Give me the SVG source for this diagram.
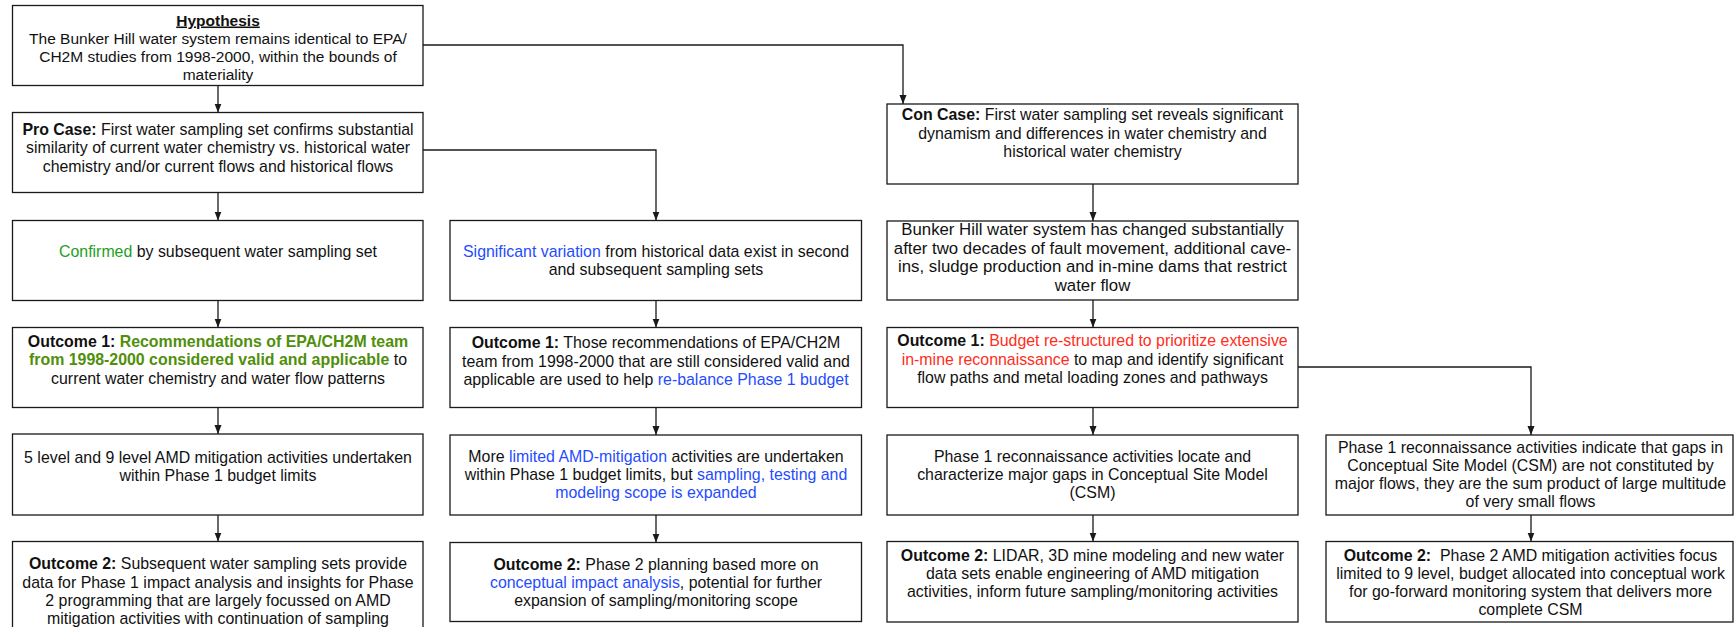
<svg xmlns="http://www.w3.org/2000/svg" width="1734" height="627" viewBox="0 0 1734 627">
<style>
  .box { fill: #ffffff; stroke: #1a1a1a; stroke-width: 1.3; }
  .t { font-family: "Liberation Sans", Arial, Helvetica, sans-serif; font-size: 15.9px; fill: #111111; text-anchor: middle; }
  .hyp { font-size: 15.5px; }
  .big { font-size: 16.8px; }
  .b { font-weight: bold; }
  .u { text-decoration: underline; }
  .green { fill: #24a01e; }
  .olive { fill: #4f8f0a; }
  .blue { fill: #1f4cff; }
  .red { fill: #ff2d20; }
  .conn { fill: none; stroke: #1a1a1a; stroke-width: 1.3; marker-end: url(#arr); }
</style>
<defs>
  <marker id="arr" markerUnits="userSpaceOnUse" markerWidth="9" markerHeight="8" refX="9" refY="4" orient="auto">
    <path d="M0,0.5 L9,4 L0,7.5 Z" fill="#1a1a1a"/>
  </marker>
</defs>
<rect width="1734" height="627" fill="#ffffff"/>

<g id="connectors">
  <path class="conn" d="M218,85.5 V112.5"/>
  <path class="conn" d="M423,45 H903 V104"/>
  <path class="conn" d="M218,192.5 V220.5"/>
  <path class="conn" d="M423,150 H656 V220.5"/>
  <path class="conn" d="M1093,184 V221"/>
  <path class="conn" d="M218,300.5 V327.5"/>
  <path class="conn" d="M656,300.5 V327.5"/>
  <path class="conn" d="M1093,300 V327.5"/>
  <path class="conn" d="M218,407.5 V434"/>
  <path class="conn" d="M656,407.5 V435"/>
  <path class="conn" d="M1093,407.5 V435"/>
  <path class="conn" d="M1298,367 H1531 V435"/>
  <path class="conn" d="M218,515 V541.5"/>
  <path class="conn" d="M656,515 V542.5"/>
  <path class="conn" d="M1093,515 V541.5"/>
  <path class="conn" d="M1531,515 V541.5"/>
</g>

<g id="hypothesis">
  <rect class="box" x="12.5" y="5.5" width="410.5" height="80"/>
  <text class="t hyp b u" x="218" y="25.5">Hypothesis</text>
  <text class="t hyp" x="218" y="43.5">The Bunker Hill water system remains identical to EPA/</text>
  <text class="t hyp" x="218" y="61.5">CH2M studies from 1998-2000, within the bounds of</text>
  <text class="t hyp" x="218" y="79.5">materiality</text>
</g>

<g id="pro-case">
  <rect class="box" x="12.5" y="112.5" width="410.5" height="80"/>
  <text class="t" x="218" y="135"><tspan class="b">Pro Case:</tspan> First water sampling set confirms substantial</text>
  <text class="t" x="218" y="153.3">similarity of current water chemistry vs. historical water</text>
  <text class="t" x="218" y="171.5">chemistry and/or current flows and historical flows</text>
</g>

<g id="con-case">
  <rect class="box" x="887" y="104" width="411" height="80"/>
  <text class="t" x="1092.5" y="120"><tspan class="b">Con Case:</tspan> First water sampling set reveals significant</text>
  <text class="t" x="1092.5" y="138.5">dynamism and differences in water chemistry and</text>
  <text class="t" x="1092.5" y="157">historical water chemistry</text>
</g>

<g id="confirmed">
  <rect class="box" x="12.5" y="220.5" width="410.5" height="80"/>
  <text class="t" x="218" y="256.7"><tspan class="green">Confirmed</tspan> by subsequent water sampling set</text>
</g>

<g id="significant-variation">
  <rect class="box" x="450" y="220.5" width="411.5" height="80"/>
  <text class="t" x="656" y="256.7"><tspan class="blue">Significant variation</tspan> from historical data exist in second</text>
  <text class="t" x="656" y="275">and subsequent sampling sets</text>
</g>

<g id="bunker-changed">
  <rect class="box" x="887" y="221" width="411" height="79"/>
  <text class="t big" x="1092.5" y="235">Bunker Hill water system has changed substantially</text>
  <text class="t big" x="1092.5" y="253.5">after two decades of fault movement, additional cave-</text>
  <text class="t big" x="1092.5" y="272">ins, sludge production and in-mine dams that restrict</text>
  <text class="t big" x="1092.5" y="290.5">water flow</text>
</g>

<g id="outcome1-pro">
  <rect class="box" x="12.5" y="327.5" width="410.5" height="80"/>
  <text class="t b" x="218" y="346.7">Outcome 1: <tspan class="olive">Recommendations of EPA/CH2M team</tspan></text>
  <text class="t" x="218" y="365"><tspan class="b olive">from 1998-2000 considered valid and applicable</tspan> to</text>
  <text class="t" x="218" y="384">current water chemistry and water flow patterns</text>
</g>

<g id="outcome1-variation">
  <rect class="box" x="450" y="327.5" width="411.5" height="80"/>
  <text class="t" x="656" y="348.3"><tspan class="b">Outcome 1:</tspan> Those recommendations of EPA/CH2M</text>
  <text class="t" x="656" y="366.7">team from 1998-2000 that are still considered valid and</text>
  <text class="t" x="656" y="385">applicable are used to help <tspan class="blue">re-balance Phase 1 budget</tspan></text>
</g>

<g id="outcome1-con">
  <rect class="box" x="887" y="327.5" width="411" height="80"/>
  <text class="t" x="1092.5" y="345.7"><tspan class="b">Outcome 1:</tspan> <tspan class="red">Budget re-structured to prioritize extensive</tspan></text>
  <text class="t" x="1092.5" y="364.5"><tspan class="red">in-mine reconnaissance</tspan> to map and identify significant</text>
  <text class="t" x="1092.5" y="382.7">flow paths and metal loading zones and pathways</text>
</g>

<g id="activities-pro">
  <rect class="box" x="12.5" y="434" width="410.5" height="81"/>
  <text class="t" x="218" y="462.7">5 level and 9 level AMD mitigation activities undertaken</text>
  <text class="t" x="218" y="480.7">within Phase 1 budget limits</text>
</g>

<g id="activities-variation">
  <rect class="box" x="450" y="435" width="411.5" height="80"/>
  <text class="t" x="656" y="461.7">More <tspan class="blue">limited AMD-mitigation</tspan> activities are undertaken</text>
  <text class="t" x="656" y="480">within Phase 1 budget limits, but <tspan class="blue">sampling, testing and</tspan></text>
  <text class="t blue" x="656" y="498.3">modeling scope is expanded</text>
</g>

<g id="recon-major-gaps">
  <rect class="box" x="887" y="435" width="411" height="80"/>
  <text class="t" x="1092.5" y="461.7">Phase 1 reconnaissance activities locate and</text>
  <text class="t" x="1092.5" y="479.8">characterize major gaps in Conceptual Site Model</text>
  <text class="t" x="1092.5" y="498.3">(CSM)</text>
</g>

<g id="recon-small-flows">
  <rect class="box" x="1326" y="435" width="407" height="80"/>
  <text class="t" x="1530.5" y="452.7">Phase 1 reconnaissance activities indicate that gaps in</text>
  <text class="t" x="1530.5" y="470.9">Conceptual Site Model (CSM) are not constituted by</text>
  <text class="t" x="1530.5" y="489.1">major flows, they are the sum product of large multitude</text>
  <text class="t" x="1530.5" y="507.3">of very small flows</text>
</g>

<g id="outcome2-pro">
  <rect class="box" x="12.5" y="541.5" width="410.5" height="100"/>
  <text class="t" x="218" y="569.3"><tspan class="b">Outcome 2:</tspan> Subsequent water sampling sets provide</text>
  <text class="t" x="218" y="587.6">data for Phase 1 impact analysis and insights for Phase</text>
  <text class="t" x="218" y="605.8">2 programming that are largely focussed on AMD</text>
  <text class="t" x="218" y="624">mitigation activities with continuation of sampling</text>
</g>

<g id="outcome2-variation">
  <rect class="box" x="450" y="542.5" width="411.5" height="79"/>
  <text class="t" x="656" y="570"><tspan class="b">Outcome 2:</tspan> Phase 2 planning based more on</text>
  <text class="t" x="656" y="587.8"><tspan class="blue">conceptual impact analysis</tspan>, potential for further</text>
  <text class="t" x="656" y="605.7">expansion of sampling/monitoring scope</text>
</g>

<g id="outcome2-con">
  <rect class="box" x="887" y="541.5" width="411" height="80.5"/>
  <text class="t" x="1092.5" y="561"><tspan class="b">Outcome 2:</tspan> LIDAR, 3D mine modeling and new water</text>
  <text class="t" x="1092.5" y="579">data sets enable engineering of AMD mitigation</text>
  <text class="t" x="1092.5" y="596.8">activities, inform future sampling/monitoring activities</text>
</g>

<g id="outcome2-small-flows">
  <rect class="box" x="1326" y="541.5" width="407" height="80.5"/>
  <text class="t" x="1530.5" y="560.7"><tspan class="b">Outcome 2:</tspan>&#160; Phase 2 AMD mitigation activities focus</text>
  <text class="t" x="1530.5" y="578.8">limited to 9 level, budget allocated into conceptual work</text>
  <text class="t" x="1530.5" y="596.9">for go-forward monitoring system that delivers more</text>
  <text class="t" x="1530.5" y="615">complete CSM</text>
</g>
</svg>
